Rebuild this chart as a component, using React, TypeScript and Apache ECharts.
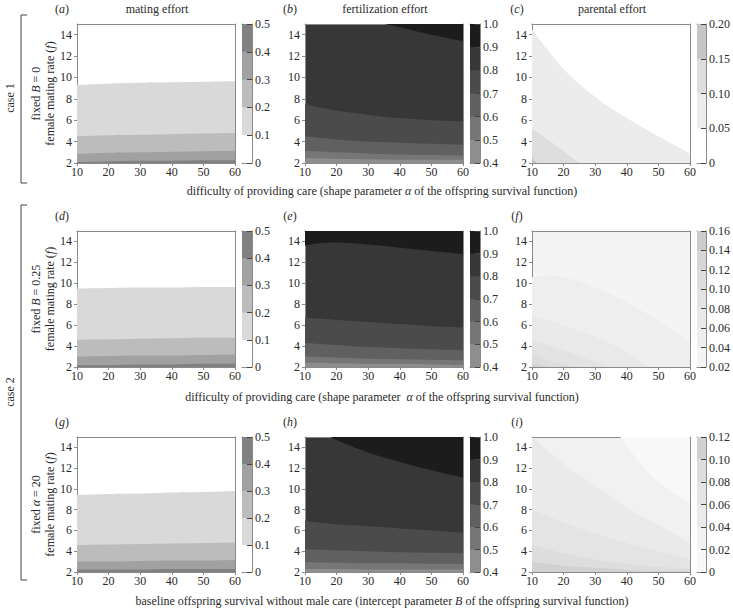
import React, { useEffect, useRef } from 'react';
import * as echarts from 'echarts';

// ---------- axes ----------
const xTicks = [10, 20, 30, 40, 50, 60];
const yTicks = [2, 4, 6, 8, 10, 12, 14];
const yMin = 2;
const yMax = 15;

// ---------- colour scales (contour levels) ----------
const matingLevels = [0, 0.1, 0.2, 0.3, 0.4, 0.5];
const matingColors = ['#ffffff', '#d9d9d9', '#bcbcbc', '#a1a1a1', '#818181'];
const fertLevels = [0.4, 0.5, 0.6, 0.7, 0.8, 0.9, 1.0];
const fertColors = ['#8e8e8e', '#767676', '#606060', '#4b4b4b', '#373737', '#1c1c1c'];
const parentalLevelsC = [0, 0.05, 0.1, 0.15, 0.2];
const parentalColorsC = ['#ffffff', '#ececec', '#dedede', '#c6c6c6'];
const parentalLevelsF = [0.02, 0.04, 0.06, 0.08, 0.1, 0.12, 0.14, 0.16];
const parentalColorsF = ['#f4f4f4', '#eeeeee', '#e9e9e9', '#e3e3e3', '#dddddd', '#d6d6d6', '#cdcdcd'];
const parentalLevelsI = [0, 0.02, 0.04, 0.06, 0.08, 0.1, 0.12];
const parentalColorsI = ['#f8f8f8', '#f1f1f1', '#eaeaea', '#e4e4e4', '#dddddd', '#d1d1d1'];

// ---------- contour boundaries (f value at each alpha / B in xTicks) ----------
// (a) mating effort, case 1
const a_01 = [9.3, 9.42, 9.5, 9.55, 9.6, 9.65];
const a_02 = [4.5, 4.6, 4.65, 4.7, 4.75, 4.8];
const a_03 = [2.85, 2.95, 3.0, 3.05, 3.1, 3.15];
const a_04 = [2.1, 2.15, 2.2, 2.2, 2.25, 2.25];
// (b) fertilization effort, case 1
const b_09x = [35, 40, 50, 60];
const b_09 = [15, 14.7, 14.0, 13.4];
const b_08 = [7.5, 6.9, 6.5, 6.2, 6.0, 5.9];
const b_07 = [4.5, 4.2, 4.0, 3.9, 3.8, 3.7];
const b_06 = [3.15, 3.0, 2.9, 2.8, 2.75, 2.7];
const b_05 = [2.45, 2.4, 2.35, 2.3, 2.3, 2.3];
// (c) parental effort, case 1
const c_005 = [14.5, 10.8, 8.2, 6.2, 4.5, 2.9];
const c_010x = [10, 15, 20, 25];
const c_010 = [5.2, 4.2, 3.1, 2.0];
const c_015x = [10, 11.5];
const c_015 = [2.5, 2.0];
// (d) mating effort, case 2 (B = 0.25)
const d_01 = [9.5, 9.55, 9.6, 9.6, 9.65, 9.65];
const d_02 = [4.6, 4.65, 4.7, 4.75, 4.8, 4.8];
const d_03 = [3.0, 3.05, 3.1, 3.1, 3.15, 3.2];
const d_04 = [2.2, 2.2, 2.25, 2.25, 2.3, 2.3];
// (e) fertilization effort, case 2 (B = 0.25)
const e_09x = [10, 15, 20, 30, 40, 50, 60];
const e_09 = [13.6, 13.85, 13.9, 13.7, 13.4, 13.1, 12.8];
const e_08 = [6.7, 6.5, 6.3, 6.1, 5.9, 5.8];
const e_07 = [4.3, 4.1, 3.9, 3.8, 3.7, 3.6];
const e_06 = [3.0, 2.9, 2.8, 2.75, 2.7, 2.65];
const e_05 = [2.4, 2.35, 2.3, 2.3, 2.25, 2.2];
// (f) parental effort, case 2 (B = 0.25)
const f_004x = [10, 15, 20, 30, 40, 50, 60];
const f_004 = [10.6, 10.75, 10.6, 9.6, 8.2, 6.4, 4.4];
const f_006x = [10, 20, 30, 40, 47];
const f_006 = [7.0, 6.0, 4.9, 3.4, 2.0];
const f_008x = [10, 20, 30, 35];
const f_008 = [4.6, 3.6, 2.5, 2.0];
const f_010x = [10, 17, 24];
const f_010 = [3.3, 2.5, 2.0];
const f_012x = [10, 13, 16];
const f_012 = [2.5, 2.2, 2.0];
const f_014x = [10, 11.5];
const f_014 = [2.15, 2.0];
// (g) mating effort, case 2 (alpha = 20)
const g_01 = [9.4, 9.5, 9.55, 9.65, 9.7, 9.8];
const g_02 = [4.6, 4.65, 4.7, 4.75, 4.8, 4.85];
const g_03 = [3.0, 3.0, 3.05, 3.1, 3.1, 3.15];
const g_04 = [2.25, 2.25, 2.25, 2.3, 2.3, 2.3];
// (h) fertilization effort, case 2 (alpha = 20)
const h_09x = [18, 20, 30, 40, 50, 60];
const h_09 = [15, 14.7, 13.5, 12.6, 11.8, 11.1];
const h_08 = [6.9, 6.6, 6.4, 6.2, 6.0, 5.8];
const h_07 = [4.2, 4.1, 4.0, 3.9, 3.85, 3.8];
const h_06 = [2.95, 2.9, 2.85, 2.85, 2.8, 2.8];
const h_05 = [2.3, 2.3, 2.25, 2.25, 2.25, 2.25];
// (i) parental effort, case 2 (alpha = 20)
const i_002x = [38, 45, 50, 55, 60];
const i_002 = [15, 12.2, 10.7, 9.6, 8.7];
const i_004 = [15, 12.4, 10.3, 8.2, 6.5, 4.8];
const i_006 = [8.0, 6.8, 5.7, 4.8, 4.0, 3.2];
const i_008 = [4.6, 3.8, 3.2, 2.8, 2.5, 2.3];
const i_010 = [3.0, 2.6, 2.4, 2.2, 2.1, 2.05];

// ---------- text ----------
const panelLetters = ['a', 'b', 'c', 'd', 'e', 'f', 'g', 'h', 'i'];
const columnTitles = ['mating effort', 'fertilization effort', 'parental effort'];
const rowFixed = ['fixed {i|B} = 0', 'fixed {i|B} = 0.25', 'fixed {i|α} = 20'];
const xTitles = [
  'difficulty of providing care (shape parameter {i|α} of the offspring survival function)',
  'difficulty of providing care (shape parameter  {i|α} of the offspring survival function)',
  'baseline offspring survival without male care (intercept parameter {i|B} of the offspring survival function)',
];

// ---------- layout ----------
const plotLefts = [77, 305, 532];
const plotW = 158;
const cbGap = 165;
const cbW = 10;
const rowTops = [24, 231, 437];
const rowHs = [139, 136, 135];

const FONT = 'Liberation Serif';
const FS = 12;
const TXT = '#2a2a2a';
const FRAME = '#8a8a8a';

type Fill = { band: number; side: 'below' | 'above'; x: number[]; y: number[] };
type Panel = { levels: number[]; colors: string[]; bg: number; dec: number; fills: Fill[] };

const below = (band: number, y: number[], x: number[] = xTicks): Fill => ({ band, side: 'below', x, y });
const above = (band: number, y: number[], x: number[] = xTicks): Fill => ({ band, side: 'above', x, y });

const panels: Panel[] = [
  { levels: matingLevels, colors: matingColors, bg: 0, dec: 1, fills: [below(1, a_01), below(2, a_02), below(3, a_03), below(4, a_04)] },
  { levels: fertLevels, colors: fertColors, bg: 4, dec: 1, fills: [above(5, b_09, b_09x), below(3, b_08), below(2, b_07), below(1, b_06), below(0, b_05)] },
  { levels: parentalLevelsC, colors: parentalColorsC, bg: 0, dec: 2, fills: [below(1, c_005), below(2, c_010, c_010x), below(3, c_015, c_015x)] },
  { levels: matingLevels, colors: matingColors, bg: 0, dec: 1, fills: [below(1, d_01), below(2, d_02), below(3, d_03), below(4, d_04)] },
  { levels: fertLevels, colors: fertColors, bg: 4, dec: 1, fills: [above(5, e_09, e_09x), below(3, e_08), below(2, e_07), below(1, e_06), below(0, e_05)] },
  {
    levels: parentalLevelsF, colors: parentalColorsF, bg: 0, dec: 2,
    fills: [below(1, f_004, f_004x), below(2, f_006, f_006x), below(3, f_008, f_008x), below(4, f_010, f_010x), below(5, f_012, f_012x), below(6, f_014, f_014x)],
  },
  { levels: matingLevels, colors: matingColors, bg: 0, dec: 1, fills: [below(1, g_01), below(2, g_02), below(3, g_03), below(4, g_04)] },
  { levels: fertLevels, colors: fertColors, bg: 4, dec: 1, fills: [above(5, h_09, h_09x), below(3, h_08), below(2, h_07), below(1, h_06), below(0, h_05)] },
  { levels: parentalLevelsI, colors: parentalColorsI, bg: 1, dec: 2, fills: [above(0, i_002, i_002x), below(2, i_004), below(3, i_006), below(4, i_008), below(5, i_010)] },
];

const labelStyle = { fontFamily: FONT, fontSize: FS, color: TXT };
const RICH = { i: { fontStyle: 'italic', fontFamily: FONT, fontSize: FS, fill: TXT } };

function buildOption() {
  const grid: any[] = [];
  const xAxis: any[] = [];
  const yAxis: any[] = [];
  const series: any[] = [];
  const graphic: any[] = [];

  panels.forEach((p, pi) => {
    const row = Math.floor(pi / 3);
    const col = pi % 3;
    const left = plotLefts[col];
    const top = rowTops[row];
    const h = rowHs[row];

    // ----- contour plot -----
    const gi = grid.length;
    grid.push({ left, top, width: plotW, height: h, show: true, backgroundColor: p.colors[p.bg], borderWidth: 0, containLabel: false });
    const xi = xAxis.length;
    xAxis.push({
      gridIndex: gi, type: 'value', min: 10, max: 60, interval: 10, position: 'bottom',
      axisLine: { show: true, onZero: false, lineStyle: { color: FRAME, width: 1 } },
      axisTick: { show: true, length: 3, lineStyle: { color: FRAME } },
      axisLabel: { ...labelStyle, margin: 3 },
      splitLine: { show: false },
    });
    xAxis.push({
      gridIndex: gi, type: 'value', min: 10, max: 60, position: 'top',
      axisLine: { show: true, onZero: false, lineStyle: { color: FRAME, width: 1 } },
      axisTick: { show: false }, axisLabel: { show: false }, splitLine: { show: false },
    });
    const yi = yAxis.length;
    yAxis.push({
      gridIndex: gi, type: 'value', min: yMin, max: yMax, interval: 2, position: 'left',
      axisLine: { show: true, onZero: false, lineStyle: { color: FRAME, width: 1 } },
      axisTick: { show: true, length: 3, lineStyle: { color: FRAME }, customValues: yTicks },
      axisLabel: { ...labelStyle, margin: 5, customValues: yTicks },
      splitLine: { show: false },
    });
    yAxis.push({
      gridIndex: gi, type: 'value', min: yMin, max: yMax, position: 'right',
      axisLine: { show: true, onZero: false, lineStyle: { color: FRAME, width: 1 } },
      axisTick: { show: false }, axisLabel: { show: false }, splitLine: { show: false },
    });

    p.fills.forEach((f) => {
      series.push({
        type: 'line', xAxisIndex: xi, yAxisIndex: yi,
        data: f.x.map((xv, k) => [xv, f.y[k]]),
        smooth: 0.4, symbol: 'none', showSymbol: false, silent: true,
        lineStyle: { width: 0, color: p.colors[f.band] },
        areaStyle: { color: p.colors[f.band], opacity: 1, origin: f.side === 'below' ? 'start' : 'end' },
        clip: true, z: 2,
      });
    });

    // ----- colour bar -----
    const cg = grid.length;
    grid.push({ left: left + cbGap, top, width: cbW, height: h, show: false, containLabel: false });
    const cxi = xAxis.length;
    xAxis.push({
      gridIndex: cg, type: 'category', data: ['c'], position: 'bottom',
      axisLine: { show: true, onZero: false, lineStyle: { color: FRAME } },
      axisTick: { show: false }, axisLabel: { show: false }, splitLine: { show: false },
    });
    xAxis.push({
      gridIndex: cg, type: 'category', data: ['c'], position: 'top',
      axisLine: { show: true, onZero: false, lineStyle: { color: FRAME } },
      axisTick: { show: false }, axisLabel: { show: false }, splitLine: { show: false },
    });
    const step = p.levels[1] - p.levels[0];
    const cyi = yAxis.length;
    yAxis.push({
      gridIndex: cg, type: 'value', min: p.levels[0], max: p.levels[p.levels.length - 1], interval: step, position: 'right',
      axisLine: { show: true, onZero: false, lineStyle: { color: FRAME } },
      axisTick: { show: true, length: 5, inside: true, lineStyle: { color: '#444' }, customValues: p.levels },
      axisLabel: {
        ...labelStyle, margin: 3, customValues: p.levels,
        formatter: (v: number) => (Math.abs(v) < 1e-9 ? '0' : v.toFixed(p.dec)),
      },
      splitLine: { show: false },
      z: 5,
    });
    yAxis.push({
      gridIndex: cg, type: 'value', min: p.levels[0], max: p.levels[p.levels.length - 1], position: 'left',
      axisLine: { show: true, onZero: false, lineStyle: { color: FRAME } },
      axisTick: { show: false }, axisLabel: { show: false }, splitLine: { show: false },
    });
    for (let j = p.colors.length - 1; j >= 0; j--) {
      series.push({
        type: 'bar', xAxisIndex: cxi, yAxisIndex: cyi, data: [p.levels[j + 1]],
        barWidth: '100%', barGap: '-100%', silent: true, clip: true,
        itemStyle: { color: p.colors[j] }, z: 2,
      });
    }

    // panel letter
    graphic.push(text(left - 15, top - 15, '({i|' + panelLetters[pi] + '})'));
    if (row === 0) graphic.push(text(left + 80, top - 15, columnTitles[col]));
  });

  // x-axis titles
  const xTitleY = [191, 397, 601];
  xTitles.forEach((t, r) => graphic.push(text(382, xTitleY[r], t)));
  // row y titles
  rowTops.forEach((t, r) => {
    const cy = t + rowHs[r] / 2;
    graphic.push(text(36, cy, rowFixed[r], Math.PI / 2));
    graphic.push(text(50, cy, 'female mating rate ({i|f})', Math.PI / 2));
  });
  // case labels and brackets
  graphic.push(text(10, 98, 'case 1', Math.PI / 2));
  graphic.push(text(10, 392, 'case 2', Math.PI / 2));
  graphic.push(bracket(15, 183));
  graphic.push(bracket(205, 580));

  return {
    animation: false,
    backgroundColor: '#ffffff',
    grid, xAxis, yAxis, series, graphic,
  };
}

function text(x: number, y: number, t: string, rotation = 0) {
  return {
    type: 'text', x, y, rotation, silent: true,
    style: { text: t, fontFamily: FONT, fontSize: FS, fill: TXT, align: 'center', verticalAlign: 'middle', rich: RICH },
  };
}

function bracket(y1: number, y2: number) {
  return {
    type: 'polyline', silent: true,
    shape: { points: [[27, y1], [21, y1], [21, y2], [27, y2]] },
    style: { stroke: '#444', lineWidth: 1, fill: null },
  };
}

export default function App() {
  const ref = useRef<HTMLDivElement>(null);
  useEffect(() => {
    document.body.style.margin = '0';
    if (!ref.current) return;
    const chart = echarts.init(ref.current, undefined, { renderer: 'svg' });
    chart.setOption(buildOption() as any);
    return () => chart.dispose();
  }, []);
  return <div ref={ref} style={{ width: 733, height: 609 }} />;
}
